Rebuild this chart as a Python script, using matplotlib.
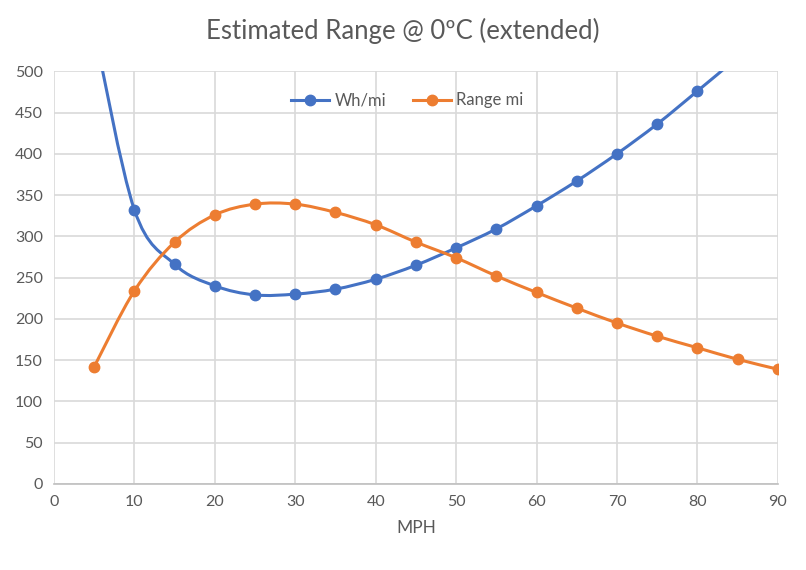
import numpy as np
import matplotlib
matplotlib.use("Agg")
from matplotlib import pyplot as plt
from matplotlib.path import Path
from matplotlib.patches import PathPatch
from matplotlib.lines import Line2D

plt.rcParams['font.family'] = ['Lato', 'DejaVu Sans']

mph = [5, 10, 15, 20, 25, 30, 35, 40, 45, 50, 55, 60, 65, 70, 75, 80, 85, 90]
wh_mi = [550, 332, 266, 240, 229, 230, 236, 248, 265, 286, 309, 337, 367, 400, 436, 476, 517, 561]
range_mi = [142, 234, 293, 326, 339, 339, 329, 314, 293, 274, 252, 232, 213, 195, 179, 165, 151, 139]

blue = '#4472C4'
orange = '#ED7D31'
grid_c = '#D9D9D9'
text_c = '#595959'


def smooth_path(xs, ys):
    # excel-like smoothed line: cubic bezier with catmull-rom control points
    pts = np.column_stack([xs, ys]).astype(float)
    verts = [pts[0]]
    codes = [Path.MOVETO]
    n = len(pts)
    for i in range(n - 1):
        p0 = pts[i - 1] if i > 0 else pts[i]
        p1 = pts[i]
        p2 = pts[i + 1]
        p3 = pts[i + 2] if i + 2 < n else pts[i + 1]
        c1 = p1 + (p2 - p0) / 6.0
        c2 = p2 - (p3 - p1) / 6.0
        verts += [c1, c2, p2]
        codes += [Path.CURVE4] * 3
    return Path(verts, codes)


fig = plt.figure(figsize=(8.06, 5.70), dpi=100)
ax = fig.add_axes([0.067, 0.151, 0.898, 0.724])

for ys, col in [(wh_mi, blue), (range_mi, orange)]:
    patch = PathPatch(smooth_path(mph, ys), fill=False, edgecolor=col, lw=2.2,
                      capstyle='round', joinstyle='round', zorder=3)
    ax.add_patch(patch)
    ax.plot(mph, ys, ls='none', marker='o', ms=7.5, color=col, zorder=4, clip_on=True)

ax.set_xlim(0, 90)
ax.set_ylim(0, 500)
ax.set_xticks(np.arange(0, 91, 10))
ax.set_yticks(np.arange(0, 501, 50))
ax.grid(True, color=grid_c, lw=1.2)
ax.set_axisbelow(True)
for s in ['top', 'right', 'left']:
    ax.spines[s].set_visible(False)
ax.spines['bottom'].set_color('#BFBFBF')
ax.spines['bottom'].set_linewidth(1.2)
ax.tick_params(length=0, labelsize=11.5, colors=text_c, pad=8)
ax.set_xlabel('MPH', fontsize=12.5, color=text_c, labelpad=8)

fig.suptitle('Estimated Range @ 0ºC (extended)', fontsize=18.5, color=text_c, y=0.968)

handles = [Line2D([], [], color=blue, lw=2.2, marker='o', ms=7.5),
           Line2D([], [], color=orange, lw=2.2, marker='o', ms=7.5)]
ax.legend(handles, ['Wh/mi', 'Range mi'], loc='upper center', ncol=2, frameon=False,
          bbox_to_anchor=(0.488, 0.985), fontsize=12, labelcolor=text_c,
          handlelength=2.3, handletextpad=0.3, columnspacing=1.6)

fig.savefig('out.png', dpi=100, facecolor='white')
